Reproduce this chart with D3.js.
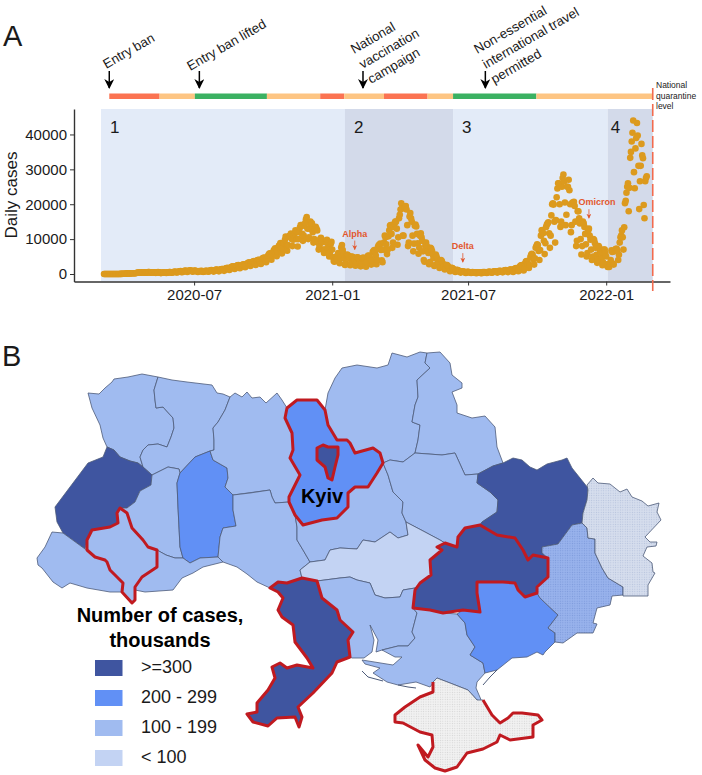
<!DOCTYPE html>
<html>
<head>
<meta charset="utf-8">
<script src="https://cdn.jsdelivr.net/npm/d3@7/dist/d3.min.js"></script>
<style>
  html, body { margin: 0; padding: 0; background: #fff; }
  text { font-family: "Liberation Sans", Arial, sans-serif; fill: #1a1a1a; }
</style>
</head>
<body>
<div id="chart"></div>
<script>
// daily cases, one row per week, first row starts 2020-03-03
var firstDay = "2020-03-03";
var dailyCases = [
  1,0,0,0,0,0,0,
  0,1,0,0,0,0,2,
  7,2,5,8,13,5,12,
  16,41,29,37,62,69,66,
  69,128,95,167,172,140,149,
  178,183,226,201,229,212,225,
  234,283,339,392,401,362,390,
  374,478,433,415,392,477,366,
  408,375,455,540,550,418,363,
  507,458,504,433,480,375,328,
  401,484,528,454,392,325,260,
  339,406,432,442,450,350,300,
  390,477,453,540,580,480,340,
  450,520,610,590,680,540,450,
  530,640,680,750,820,600,520,
  630,830,870,900,980,780,600,
  760,920,1000,1090,950,840,650,
  800,1010,900,940,870,720,600,
  760,850,780,830,890,690,610,
  640,810,860,920,950,800,640,
  790,1000,1060,1100,1050,880,690,
  880,1110,1200,1270,1180,950,760,
  1020,1270,1320,1410,1450,1130,900,
  1230,1590,1700,1650,1800,1400,1150,
  1490,1870,2040,2100,2200,1800,1450,
  1770,2250,2350,2500,2540,1950,1650,
  2140,2500,2420,2720,2790,2300,1950,
  2450,2900,3000,3150,3350,2700,2300,
  2900,3400,3500,3600,3700,3150,2600,
  3100,3900,4000,4100,4000,3500,2900,
  3600,4400,4600,4700,4650,4100,3400,
  4300,5000,5400,5800,5900,5000,4100,
  5300,6000,6700,7000,7400,5900,5100,
  6400,7500,8100,8300,8900,7500,5900,
  7400,8900,9000,9800,10700,8300,6700,
  8300,10700,10900,11000,11600,10000,8000,
  9800,11000,11600,12500,12300,10000,7900,
  10000,12000,13300,14000,14000,11500,9500,
  11000,13800,14600,15700,16300,13000,10000,
  10500,13000,15000,14000,14500,12000,9000,
  10000,12800,13500,13000,12500,9000,7000,
  8000,10000,10400,9000,9500,7000,6000,
  7000,9500,9000,9800,7500,5800,5000,
  6000,8600,9200,7000,4800,3700,3500,
  3900,5000,4400,4300,6000,5500,3100,
  4600,7600,8300,6900,5800,4500,2600,
  3100,5300,5600,5200,5200,4500,2500,
  3000,5000,4900,4700,4500,3800,2400,
  3300,4800,4800,4500,4200,3500,2200,
  3000,4500,4700,4600,4500,3300,2100,
  3200,5000,5300,5200,4900,3800,2700,
  3900,6300,6600,6900,6300,5300,2800,
  4000,7800,8300,8200,8700,6900,3900,
  3400,7000,9000,11000,10500,8500,5700,
  7000,10800,12500,13900,14000,11500,7500,
  9000,13500,14500,15000,15000,13000,8400,
  10500,16000,17000,18500,20300,18800,11000,
  11000,19000,19300,19500,18500,14000,8000,
  9000,16500,17500,16000,15000,11000,6500,
  8700,13800,14200,13600,11500,8800,5800,
  7500,11000,11700,10500,9500,6500,4000,
  3500,8000,9000,8000,6500,6000,2800,
  3400,7500,7200,6600,5500,4500,2300,
  2600,5600,5000,4300,3800,2900,1700,
  2000,4000,3700,3100,2800,2100,1300,
  1500,2600,2600,2300,1900,1500,800,
  1000,1800,1700,1500,1300,1000,600,
  800,1200,1100,1000,900,650,400,
  550,800,730,680,620,450,300,
  470,600,600,560,500,400,280,
  430,550,510,480,470,350,250,
  400,500,470,480,460,320,240,
  420,550,520,530,480,400,280,
  470,600,620,600,540,470,340,
  540,700,800,760,720,560,400,
  620,880,900,880,850,650,470,
  750,1000,1050,1100,1000,760,550,
  800,1150,1250,1300,1200,900,600,
  900,1500,1550,1700,1600,1200,800,
  1300,2100,2400,2500,2600,1700,1000,
  1500,3000,3600,3700,3600,2800,1700,
  2600,4900,5500,5800,5500,4200,2700,
  4500,7500,8000,8500,8300,6600,4000,
  6900,11000,12500,12600,11700,9500,5700,
  8800,13500,14200,14500,14800,11700,7500,
  11000,16800,20000,20300,19900,15000,9000,
  15500,22000,24500,26000,26000,20000,13500,
  15000,25000,27500,28500,26500,20500,14000,
  17000,25000,25000,27000,24000,20000,12000,
  14000,20500,20000,20700,19500,15000,8000,
  9500,18000,18000,16000,14500,10000,5600,
  8000,15000,14500,13500,11500,8500,5000,
  6000,12500,13000,11000,9800,7000,4000,
  5000,10000,9700,8800,7500,5500,3200,
  4000,8000,7500,6500,6000,4500,2500,
  3300,7000,7000,6000,5000,2800,2000,
  2200,2000,3000,4000,6800,6300,3000,
  2700,6500,7000,7200,7200,6700,4000,
  5500,9000,10500,11000,12500,10500,7000,
  13400,20300,21000,23300,25000,26000,18000,
  24700,33300,35000,38000,40500,44000,29200,
  24600,36000,39000,43300,39700,31000,18600,
  26600,31000,37300,34000,33200,19800,16000,
  26600,27500,28000
];

var yTicks = [0, 10000, 20000, 30000, 40000];
var xTicks = ["2020-07-01", "2021-01-01", "2021-07-01", "2022-01-01"];

// quarantine level bar: start, end, level
var levelStarts = ["2020-03-10", "2020-05-16", "2020-07-02", "2020-10-06", "2020-12-16", "2021-01-17", "2021-03-11", "2021-05-08", "2021-06-11", "2021-09-30"];
var levelEnds = ["2020-05-16", "2020-07-02", "2020-10-06", "2020-12-16", "2021-01-17", "2021-03-11", "2021-05-08", "2021-06-11", "2021-09-30", "2022-03-04"];
var levelNames = ["red", "orange", "green", "orange", "red", "orange", "red", "orange", "green", "orange"];

// epidemic periods
var periodLabels = ["1", "2", "3", "4"];
var periodStarts = ["2020-02-28", "2021-01-18", "2021-06-11", "2022-01-03"];
var periodEnds = ["2021-01-18", "2021-06-11", "2022-01-03", "2022-03-04"];

// policy events
var eventDates = ["2020-03-10", "2020-07-08", "2021-02-11", "2021-07-24"];
var eventLines = [
  ["Entry ban"],
  ["Entry ban lifted"],
  ["National", "vaccination", "campaign"],
  ["Non-essential", "international travel", "permitted"]
];

// variants
var variantNames = ["Alpha", "Delta", "Omicron"];
var variantDates = ["2021-01-31", "2021-06-24", "2021-12-09"];
var variantCases = [7000, 3400, 16000];

var legendLabels = [">=300", "200 - 299", "100 - 199", "< 100"];
var bandColors = { d: "#3f55a0", c: "#6190f5", b: "#a0bbf0", a: "#c3d3f3" };

// oblast outlines in map units
var volyn = [[88,393],[99,394],[105,388],[112,382],[114,379],[128,377],[142,374],[158,377],[154,390],[155,400],[156,408],[163,407],[173,418],[174,428],[171,437],[167,447],[158,444],[148,445],[143,450],[140,457],[143,467],[138,463],[130,461],[120,457],[114,450],[107,447],[103,438],[100,425],[92,408]];
var rivne = [[158,377],[172,380],[187,382],[212,385],[217,393],[223,394],[230,397],[225,410],[218,422],[213,428],[214,440],[214,450],[210,451],[195,457],[180,473],[179,469],[168,467],[152,475],[143,467],[140,457],[143,450],[148,445],[158,444],[167,447],[171,437],[174,428],[173,418],[163,407],[156,408],[155,400],[154,390]];
var lviv = [[107,447],[114,450],[120,457],[130,461],[138,463],[143,467],[152,475],[151,485],[140,491],[135,502],[127,508],[120,508],[117,513],[118,523],[110,527],[92,530],[87,540],[85,549],[74,541],[63,533],[57,522],[55,507],[70,487],[88,463],[103,457]];
var zakarpattia = [[63,533],[52,532],[45,547],[37,558],[38,565],[42,568],[53,582],[62,588],[70,583],[87,588],[110,592],[122,592],[123,583],[110,570],[107,562],[105,560],[95,557],[87,550],[85,549],[74,541]];
var ivanoFrankivsk = [[120,508],[127,513],[132,528],[143,540],[148,547],[157,550],[157,567],[142,577],[135,587],[135,600],[132,603],[122,592],[123,583],[110,570],[107,562],[105,560],[95,557],[87,550],[87,540],[92,530],[110,527],[118,523],[117,513]];
var ternopil = [[151,485],[152,475],[168,467],[179,469],[180,473],[177,483],[178,507],[180,547],[183,558],[175,558],[166,555],[157,550],[148,547],[143,540],[132,528],[127,513],[120,508],[127,508],[135,502],[140,491]];
var khmelnytskyi = [[210,451],[195,457],[180,473],[177,483],[178,507],[180,547],[183,558],[190,563],[200,558],[218,557],[220,537],[223,528],[236,526],[233,510],[233,495],[225,487],[228,478],[227,468],[213,460]];
var chernivtsi = [[157,550],[166,555],[175,558],[183,558],[190,563],[200,558],[218,557],[223,562],[203,567],[193,573],[182,578],[173,590],[145,592],[135,590],[135,587],[142,577],[157,567]];
var zhytomyr = [[230,397],[235,393],[242,397],[247,392],[252,398],[260,397],[266,403],[277,393],[282,400],[287,408],[285,418],[292,433],[293,450],[290,458],[300,475],[289,497],[289,502],[275,503],[272,497],[270,490],[233,495],[225,487],[228,478],[227,468],[213,460],[210,451],[214,450],[214,440],[213,428],[218,422],[225,410]];
var vinnytsia = [[233,495],[250,493],[270,490],[272,497],[275,503],[289,502],[295,515],[297,527],[297,540],[303,550],[310,562],[300,570],[302,578],[287,583],[278,582],[270,588],[257,582],[247,574],[237,567],[223,562],[218,557],[220,537],[223,528],[236,526],[233,510]];
var kyivOblast = [[287,408],[297,400],[317,400],[325,410],[328,425],[337,440],[347,440],[350,443],[355,453],[373,448],[380,453],[383,463],[377,473],[368,487],[355,487],[348,493],[348,507],[337,518],[322,520],[303,525],[295,515],[289,502],[289,497],[300,475],[290,458],[293,450],[292,433],[285,418]];
var kyivCity = [[317,448],[323,445],[328,447],[338,447],[338,455],[335,467],[332,480],[328,478],[325,467],[317,460]];
var chernihiv = [[325,410],[328,393],[335,378],[342,368],[357,365],[377,368],[388,365],[392,353],[407,357],[420,352],[427,353],[425,363],[430,368],[417,380],[418,397],[415,405],[412,422],[420,425],[418,440],[415,453],[403,462],[390,460],[383,463],[380,453],[373,448],[355,453],[350,443],[347,440],[337,440],[328,425]];
var sumy = [[427,353],[440,352],[450,363],[452,375],[462,383],[462,388],[452,392],[457,405],[457,413],[472,418],[485,416],[495,427],[497,447],[503,463],[493,466],[478,474],[465,475],[455,453],[442,455],[415,453],[418,440],[420,425],[412,422],[415,405],[418,397],[417,380],[430,368],[425,363]];
var cherkasy = [[303,525],[322,520],[337,518],[348,507],[348,493],[355,487],[368,487],[377,473],[383,463],[388,475],[393,492],[403,502],[402,513],[406,522],[408,535],[398,538],[390,532],[375,542],[363,540],[357,549],[340,548],[330,550],[325,560],[310,562],[303,550],[297,540],[297,527],[295,515]];
var poltava = [[383,463],[390,460],[403,462],[415,453],[442,455],[455,453],[465,475],[478,474],[477,483],[490,492],[498,500],[497,512],[482,522],[480,525],[465,528],[458,537],[457,547],[445,543],[440,540],[425,532],[406,522],[402,513],[403,502],[393,492],[388,475]];
var kharkiv = [[503,463],[513,458],[522,460],[530,467],[537,470],[547,464],[562,460],[567,458],[572,468],[580,478],[588,488],[587,500],[583,513],[582,523],[572,525],[558,544],[542,547],[542,553],[548,558],[533,555],[528,560],[523,550],[515,538],[497,535],[480,525],[482,522],[497,512],[498,500],[490,492],[477,483],[478,474],[493,466]];
var kirovohrad = [[310,562],[325,560],[330,550],[340,548],[357,549],[363,540],[375,542],[390,532],[398,538],[408,535],[406,522],[425,532],[440,540],[445,543],[437,547],[442,550],[430,560],[431,575],[420,583],[415,588],[403,590],[400,597],[385,598],[375,595],[370,583],[357,580],[350,577],[340,578],[317,581],[302,578],[300,570]];
var mykolaiv = [[317,581],[340,578],[350,577],[357,580],[370,583],[375,595],[385,598],[400,597],[403,590],[415,588],[413,608],[417,613],[412,632],[415,638],[408,646],[398,646],[382,650],[376,652],[378,640],[370,625],[374,640],[372,652],[364,658],[352,658],[350,657],[348,640],[353,632],[340,620],[337,610],[322,598]];
var kherson = [[413,608],[430,610],[443,613],[457,614],[465,623],[467,635],[475,647],[470,655],[483,663],[485,673],[477,682],[476,688],[482,702],[477,700],[468,690],[450,683],[437,678],[430,687],[416,682],[398,685],[387,682],[373,673],[380,668],[365,664],[362,660],[393,665],[402,657],[395,657],[382,650],[398,646],[408,646],[415,638],[412,632],[417,613]];
var zaporizhzhia = [[457,614],[463,610],[480,612],[477,593],[477,582],[503,582],[515,583],[518,590],[525,597],[537,593],[540,598],[558,615],[548,628],[555,633],[555,642],[545,652],[543,655],[537,652],[527,657],[512,658],[497,670],[485,673],[483,663],[470,655],[475,647],[467,635],[465,623]];
var dnipro = [[457,547],[458,537],[465,528],[480,525],[497,535],[515,538],[523,550],[528,560],[533,555],[548,558],[548,577],[537,587],[537,593],[525,597],[518,590],[515,583],[503,582],[477,582],[477,593],[480,612],[463,610],[443,613],[430,610],[413,608],[415,590],[420,583],[431,575],[430,560],[442,550],[437,547],[445,543]];
var odesa = [[270,588],[278,582],[287,583],[302,578],[317,581],[322,598],[337,610],[340,620],[353,632],[348,640],[350,657],[337,662],[332,673],[313,693],[298,707],[302,717],[299,727],[295,717],[277,718],[268,726],[253,722],[247,714],[257,712],[257,703],[268,690],[275,678],[272,667],[280,663],[287,668],[297,665],[313,668],[307,658],[295,642],[293,625],[282,617],[278,610],[283,598],[278,592]];
var donetsk = [[542,547],[558,544],[572,525],[582,523],[587,528],[588,538],[595,539],[595,553],[602,568],[608,578],[623,587],[623,595],[612,596],[610,605],[597,608],[593,623],[597,624],[593,633],[577,633],[563,643],[555,642],[555,633],[548,628],[558,615],[540,598],[537,593],[537,587],[548,577],[548,558],[542,553]];
var luhansk = [[593,478],[598,483],[610,484],[620,492],[627,489],[632,497],[642,501],[648,506],[659,503],[657,512],[661,520],[645,537],[650,542],[657,542],[656,546],[647,547],[643,556],[652,563],[653,572],[655,573],[648,585],[648,596],[623,596],[623,587],[608,578],[602,568],[595,553],[595,539],[588,538],[587,528],[582,523],[583,513],[587,500],[588,490],[587,485]];
var crimea = [[433,682],[433,692],[420,697],[405,707],[395,715],[395,722],[403,723],[420,732],[432,735],[433,747],[428,757],[418,745],[425,760],[435,768],[445,771],[457,767],[467,753],[483,749],[497,742],[500,735],[510,740],[533,737],[533,725],[542,720],[538,715],[522,713],[513,713],[508,718],[500,723],[492,715],[483,700],[477,700],[468,690],[450,683],[437,678]];
var crimeaRedEnd = 31; // the north side of Crimea keeps a thin border
var kinburn = [[362,671],[368,677],[383,681]];
var tendra = [[398,685],[408,687],[416,688]];
var arabat = [[497,670],[490,677],[483,685]];

var regions = [
  [volyn, "b"], [rivne, "b"], [lviv, "d"], [zakarpattia, "b"], [ternopil, "b"], [khmelnytskyi, "c"],
  [chernivtsi, "b"], [zhytomyr, "b"], [vinnytsia, "b"], [chernihiv, "b"], [sumy, "b"], [cherkasy, "b"],
  [poltava, "b"], [kharkiv, "d"], [kirovohrad, "a"], [mykolaiv, "b"], [kherson, "b"], [zaporizhzhia, "c"],
  [donetsk, "url(#dotsDonetsk)"], [luhansk, "url(#dotsLuhansk)"], [crimea, "url(#dotsCrimea)"],
  [ivanoFrankivsk, "b"], [dnipro, "d"], [odesa, "d"], [kyivOblast, "c"], [kyivCity, "d"]
];
var redClosed = [ivanoFrankivsk, dnipro, odesa, kyivOblast, kyivCity];

var svgWidth = 702;
var svgHeight = 775;

var svg = d3.select("#chart")
  .append("svg")
  .attr("width", svgWidth)
  .attr("height", svgHeight)
  .style("display", "block");

var parseDay = d3.timeParse("%Y-%m-%d");

var x = d3.scaleTime()
  .domain([parseDay("2020-01-23"), parseDay("2022-03-27")])
  .range([74, 670]);
var y = d3.scaleLinear()
  .domain([-2150, 47300])
  .range([281.5, 109]);

// period shading
svg.selectAll(".period")
  .data(periodLabels)
  .enter()
  .append("rect")
  .attr("x", (d, i) => x(parseDay(periodStarts[i])))
  .attr("width", (d, i) => x(parseDay(periodEnds[i])) - x(parseDay(periodStarts[i])))
  .attr("y", y(47300))
  .attr("height", y(-2150) - y(47300))
  .attr("fill", (d, i) => i % 2 ? "#d3daea" : "#e3ebf8");

svg.selectAll(".periodLabel")
  .data(periodLabels)
  .enter()
  .append("text")
  .attr("x", (d, i) => x(parseDay(periodStarts[i])) + (i == 3 ? 3 : 9))
  .attr("y", 133)
  .style("font-size", "17px")
  .text(d => d);

// quarantine level bar
var levelColor = { red: "#fb7352", orange: "#fdc583", green: "#3bb162" };
svg.selectAll(".level")
  .data(levelNames)
  .enter()
  .append("rect")
  .attr("x", (d, i) => x(parseDay(levelStarts[i])))
  .attr("width", (d, i) => x(parseDay(levelEnds[i])) - x(parseDay(levelStarts[i])))
  .attr("y", 93.5)
  .attr("height", 5.5)
  .attr("fill", d => levelColor[d]);

// axes
var xAxis = d3.axisBottom(x)
  .tickValues(xTicks.map(parseDay))
  .tickFormat(d3.timeFormat("%Y-%m"))
  .tickSize(4)
  .tickSizeOuter(0);
var yAxis = d3.axisLeft(y)
  .tickValues(yTicks)
  .tickFormat(d3.format("d"))
  .tickSize(4)
  .tickSizeOuter(0);

var xG = svg.append("g").attr("transform", "translate(0,281.5)").call(xAxis);
var yG = svg.append("g").attr("transform", "translate(74,0)").call(yAxis);
[xG, yG].forEach(function(g) {
  g.select(".domain").attr("stroke", "#333").attr("stroke-width", 1.4);
  g.selectAll(".tick line").attr("stroke", "#333").attr("stroke-width", 1);
  g.selectAll("text").style("font-size", "15px").style("font-family", "Liberation Sans").attr("fill", "#1a1a1a");
});
xG.selectAll("text").attr("dy", "0.77em");

svg.append("text")
  .attr("transform", "translate(17,195) rotate(-90)")
  .style("text-anchor", "middle")
  .style("font-size", "17px")
  .text("Daily cases");

// case dots
var start = parseDay(firstDay);
svg.append("g")
  .selectAll("circle")
  .data(dailyCases)
  .enter()
  .append("circle")
  .attr("cx", (d, i) => x(d3.timeDay.offset(start, i)))
  .attr("cy", d => y(d))
  .attr("r", 3.3)
  .attr("fill", "#dc9a1e");

// event arrows
var defs = svg.append("defs");
function arrowHead(id, color, size) {
  defs.append("marker")
    .attr("id", id)
    .attr("viewBox", "0 0 10 10")
    .attr("refX", 9)
    .attr("refY", 5)
    .attr("markerWidth", size)
    .attr("markerHeight", size)
    .attr("markerUnits", "userSpaceOnUse")
    .attr("orient", "auto")
    .append("path")
    .attr("d", "M0,0L10,5L0,10L3,5Z")
    .attr("fill", color);
}
arrowHead("blackHead", "#000", 10);
arrowHead("redHead", "#e2572e", 5);

svg.selectAll(".eventArrow")
  .data(eventDates)
  .enter()
  .append("line")
  .attr("x1", d => x(parseDay(d)))
  .attr("x2", d => x(parseDay(d)))
  .attr("y1", 71)
  .attr("y2", 88)
  .attr("stroke", "#000")
  .attr("stroke-width", 1.5)
  .attr("marker-end", "url(#blackHead)");

// event text sits up and to the right of its arrow, one step per line
var eventTextDx = [-3, -9, 8, 9];
var eventTextY = [69, 71, 84, 84];
eventLines.forEach(function(lines, i) {
  var ax = x(parseDay(eventDates[i]));
  lines.forEach(function(line, j) {
    var back = lines.length - 1 - j;
    svg.append("text")
      .attr("transform", "translate(" + (ax + eventTextDx[i] - 8.5 * back) + "," + (eventTextY[i] - 15 * back) + ") rotate(-30)")
      .style("font-size", "13.3px")
      .text(line);
  });
});

// variants
variantNames.forEach(function(name, i) {
  var vx = x(parseDay(variantDates[i]));
  var vy = y(variantCases[i]);
  svg.append("text")
    .attr("x", vx + (i == 2 ? 8 : 0))
    .attr("y", vy - 13)
    .style("text-anchor", "middle")
    .style("font-size", "9px")
    .style("font-weight", "bold")
    .style("fill", "#e2572e")
    .text(name);
  svg.append("line")
    .attr("x1", vx).attr("x2", vx)
    .attr("y1", vy - 9).attr("y2", vy)
    .attr("stroke", "#e2572e")
    .attr("stroke-width", 0.8)
    .attr("marker-end", "url(#redHead)");
});

// national quarantine line
svg.append("line")
  .attr("x1", x(parseDay("2022-03-04")))
  .attr("x2", x(parseDay("2022-03-04")))
  .attr("y1", 88)
  .attr("y2", 291)
  .attr("stroke", "#f26b4e")
  .attr("stroke-width", 1.6)
  .attr("stroke-dasharray", "12,4");

["National", "quarantine", "level"].forEach(function(t, i) {
  svg.append("text")
    .attr("x", 656)
    .attr("y", 88 + i * 10.7)
    .style("font-size", "8.5px")
    .text(t);
});

svg.append("text").attr("x", 3).attr("y", 46).style("font-size", "29px").text("A");
svg.append("text").attr("x", 2).attr("y", 366).style("font-size", "29px").text("B");

// map
function stipple(id, base, dot) {
  var p = defs.append("pattern")
    .attr("id", id)
    .attr("width", 2.4)
    .attr("height", 2.4)
    .attr("patternUnits", "userSpaceOnUse");
  p.append("rect").attr("width", 2.4).attr("height", 2.4).attr("fill", base);
  p.append("circle").attr("cx", 1.2).attr("cy", 1.2).attr("r", 0.55).attr("fill", dot);
}
stipple("dotsDonetsk", "#98b2ec", "#7b98da");
stipple("dotsLuhansk", "#d5dded", "#b4c1dc");
stipple("dotsCrimea", "#f1f1f1", "#d2d2d2");

var path = d3.geoPath(d3.geoIdentity());
function ring(points) {
  return { type: "Polygon", coordinates: [points.concat([points[0]])] };
}
function fillOf(band) {
  return bandColors[band] || band;
}

svg.append("g")
  .selectAll("path")
  .data(regions)
  .enter()
  .append("path")
  .attr("d", d => path(ring(d[0])))
  .attr("fill", d => fillOf(d[1]))
  .attr("stroke", "#4c5a78")
  .attr("stroke-width", 0.8)
  .attr("stroke-linejoin", "round");

[kinburn, tendra, arabat].forEach(function(part) {
  svg.append("path")
    .attr("d", path({ type: "LineString", coordinates: part }))
    .attr("fill", "none")
    .attr("stroke", "#4c5a78")
    .attr("stroke-width", 1);
});

var red = "#c01a20";
svg.append("g")
  .selectAll("path")
  .data(redClosed)
  .enter()
  .append("path")
  .attr("d", d => path(ring(d)))
  .attr("fill", "none")
  .attr("stroke", red)
  .attr("stroke-width", 3)
  .attr("stroke-linejoin", "round");

svg.append("path")
  .attr("d", path({ type: "LineString", coordinates: crimea.slice(0, crimeaRedEnd) }))
  .attr("fill", "none")
  .attr("stroke", red)
  .attr("stroke-width", 3)
  .attr("stroke-linejoin", "round");

svg.append("text")
  .attr("x", 322)
  .attr("y", 503)
  .style("text-anchor", "middle")
  .style("font-size", "20px")
  .style("font-weight", "bold")
  .style("fill", "#000")
  .text("Kyiv");

// legend
["Number of cases,", "thousands"].forEach(function(t, i) {
  svg.append("text")
    .attr("x", 160)
    .attr("y", 622 + i * 24.5)
    .style("text-anchor", "middle")
    .style("font-size", "20px")
    .style("font-weight", "bold")
    .style("fill", "#000")
    .text(t);
});

var legendY = d3.scalePoint()
  .domain(legendLabels)
  .range([660, 750]);

svg.selectAll(".legendBox")
  .data(legendLabels)
  .enter()
  .append("rect")
  .attr("x", 95)
  .attr("y", d => legendY(d))
  .attr("width", 27.5)
  .attr("height", 16)
  .attr("fill", (d, i) => bandColors["dcba"[i]]);

svg.selectAll(".legendText")
  .data(legendLabels)
  .enter()
  .append("text")
  .attr("x", 141)
  .attr("y", d => legendY(d) + 12.5)
  .style("font-size", "18px")
  .text(d => d);
</script>
</body>
</html>
